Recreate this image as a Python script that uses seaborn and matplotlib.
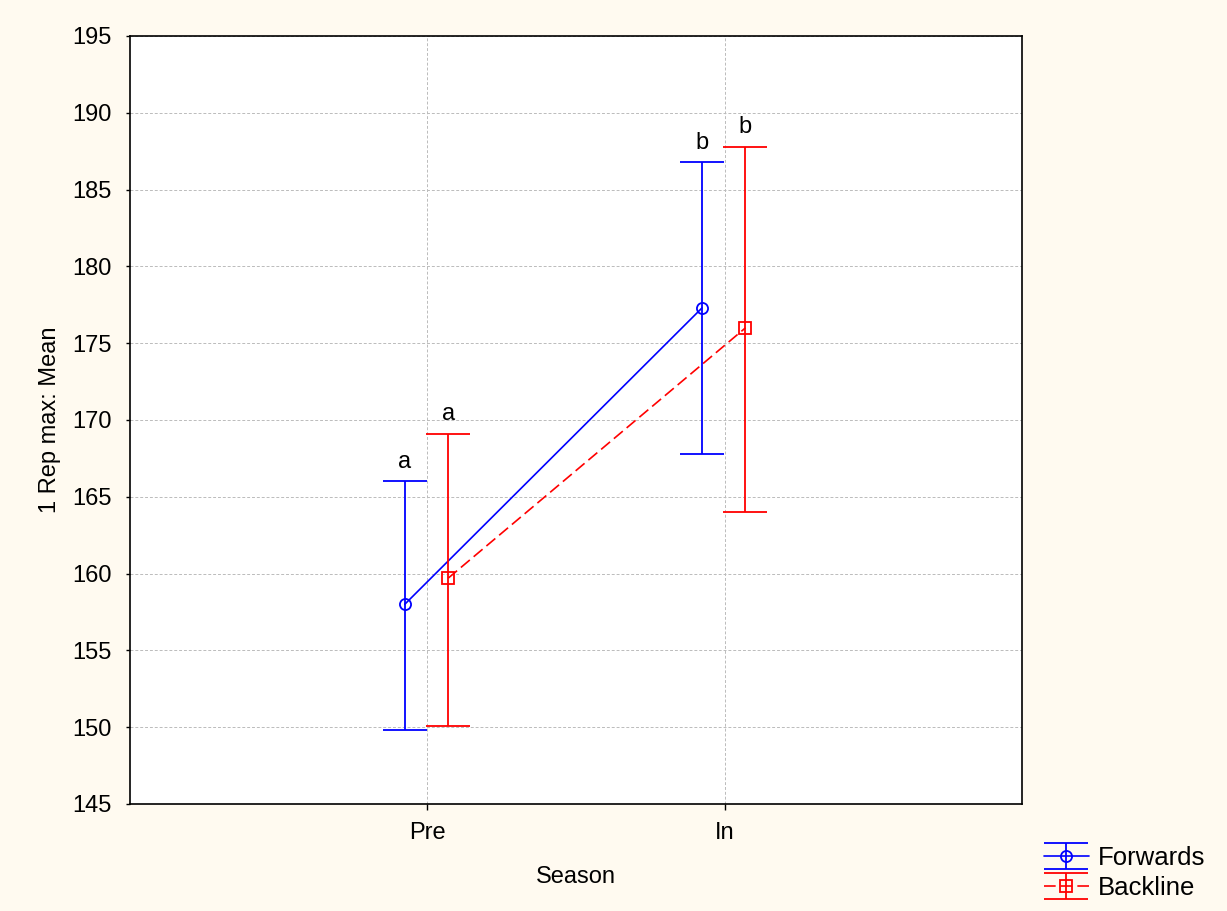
import numpy as np
import pandas as pd
import matplotlib
matplotlib.use("Agg")
import matplotlib.pyplot as plt
import seaborn as sns
from matplotlib.legend_handler import HandlerErrorbar
from matplotlib.container import ErrorbarContainer

seasons = ["Pre", "In"]
groups = ["Forwards", "Backline"]
forwards_mean = [158.0, 177.3]
forwards_low = [149.8, 167.8]
forwards_high = [166.0, 186.8]
backline_mean = [159.7, 176.0]
backline_low = [150.1, 164.0]
backline_high = [169.1, 187.8]
forwards_letters = ["a", "b"]
backline_letters = ["a", "b"]

sns.set_theme(style="white")
plt.rcParams['font.family'] = ['Liberation Sans', 'DejaVu Sans']
plt.rcParams['text.color'] = 'black'
plt.rcParams['axes.labelcolor'] = 'black'

fig = plt.figure(figsize=(12.27, 9.11), dpi=100, facecolor="#FFFAF0")
ax = fig.add_axes([130/1227, 107/911, (1022-130)/1227, (804-36)/911])
ax.set_facecolor("white")

offsets = {"Forwards": -0.076, "Backline": 0.07}
colors = {"Forwards": "#0000FF", "Backline": "#FF0000"}
markers = {"Forwards": "o", "Backline": "s"}
dash = (7, 3)

rows = []
for g, m, lo, hi, let in [("Forwards", forwards_mean, forwards_low, forwards_high, forwards_letters),
                          ("Backline", backline_mean, backline_low, backline_high, backline_letters)]:
    for i, s in enumerate(seasons):
        rows.append(dict(group=g, season=s, x=i + offsets[g], mean=m[i], low=lo[i], high=hi[i], letter=let[i]))
df = pd.DataFrame(rows)

sns.lineplot(data=df, x="x", y="mean", hue="group", style="group",
             palette=colors, markers=markers, dashes={"Forwards": "", "Backline": dash},
             markersize=8, markerfacecolor="none", linewidth=1.2, ax=ax, legend=False,
             markeredgewidth=1.3)
for line in ax.get_lines():
    line.set_markeredgecolor(line.get_color())

for g in groups:
    sub = df[df.group == g]
    ax.errorbar(sub.x, sub["mean"], yerr=[sub["mean"] - sub.low, sub.high - sub["mean"]],
                fmt="none", ecolor=colors[g], elinewidth=1.3, capsize=16, capthick=1.3)
    for _, r in sub.iterrows():
        ax.text(r.x, r.high + 0.55, r.letter, ha="center", va="bottom", fontsize=17, color="black")

ax.set_xlim(-1, 2)
ax.set_ylim(145, 195)
ax.set_yticks(np.arange(145, 196, 5))
ax.set_xticks(range(len(seasons)))
ax.set_xticklabels(seasons)
ax.tick_params(axis="y", labelsize=17, direction="out", length=3, width=1, colors="black", left=True, pad=10)
ax.tick_params(axis="x", labelsize=17, direction="out", length=4, width=1, colors="black", bottom=True, pad=9)
ax.grid(True, color="#BBBBBB", linestyle=(0, (3, 2)), linewidth=0.7)
for sp in ax.spines.values():
    sp.set_color("black")
    sp.set_linewidth(1.2)
ax.set_xlabel("Season", fontsize=17, labelpad=16, color="black")
ax.set_ylabel("1 Rep max: Mean", fontsize=17, labelpad=8, color="black")

# legend handles (invisible NaN points so caps exist)
leg_handles = []
for g in groups:
    h = ax.errorbar([np.nan], [np.nan], yerr=[1.0], color=colors[g], marker=markers[g], mfc="none",
                    mec=colors[g], markersize=8, mew=1.3,
                    linestyle="-" if g == "Forwards" else (0, dash), capsize=16,
                    elinewidth=1.3, capthick=1.3, lw=1.2)
    leg_handles.append(h)
leg = fig.legend(leg_handles, groups, loc="upper left",
                 bbox_to_anchor=(1044/1227, 1 - 846/911),
                 frameon=False, fontsize=18.5, handlelength=1.75, handletextpad=0.35,
                 labelspacing=0.22, borderaxespad=0, borderpad=0,
                 handler_map={ErrorbarContainer: HandlerErrorbar(yerr_size=0.5)})
for t in leg.get_texts():
    t.set_color("black")

fig.savefig("out.png", dpi=100, facecolor=fig.get_facecolor())
